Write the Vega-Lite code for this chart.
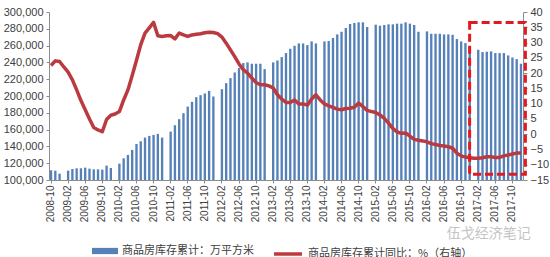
{
  "$schema": "https://vega.github.io/schema/vega-lite/v6.json",
  "width": 474,
  "height": 168,
  "autosize": {"type": "none"},
  "padding": {"left": 49, "top": 12, "right": 27, "bottom": 77},
  "background": "white",
  "title": {"text": "伍戈经济笔记", "orient": "top", "anchor": "end", "frame": "bounds", "font": "Noto Sans CJK SC", "fontSize": 14, "fontWeight": "normal", "color": "#c4c4c4", "offset": 0, "dx": -18, "dy": 235},
  "config": {
    "view": {"stroke": null},
    "font": "Liberation Sans",
    "axis": {"grid": false, "domainColor": "#8c8c8c", "tickColor": "#8c8c8c", "labelColor": "#404040", "labelFont": "Liberation Sans", "title": null},
    "legend": {"orient": "none", "title": null, "labelFont": "Noto Sans CJK SC", "labelFontSize": 11, "labelColor": "#404040", "labelLimit": 400}
  },
  "data": {"values": [
    {"m": "2008-10", "inv": 111600, "yoy": 22.5},
    {"m": "2008-11", "inv": 111100, "yoy": 24.0},
    {"m": "2008-12", "inv": 107500, "yoy": 23.8},
    {"m": "2009-01", "yoy": 22.0},
    {"m": "2009-02", "inv": 111100, "yoy": 20.3},
    {"m": "2009-03", "inv": 113100, "yoy": 17.8},
    {"m": "2009-04", "inv": 113900, "yoy": 14.5},
    {"m": "2009-05", "inv": 113900, "yoy": 11.0},
    {"m": "2009-06", "inv": 114700, "yoy": 8.0},
    {"m": "2009-07", "inv": 113500, "yoy": 5.0},
    {"m": "2009-08", "inv": 112700, "yoy": 2.2},
    {"m": "2009-09", "inv": 112700, "yoy": 1.4},
    {"m": "2009-10", "inv": 112300, "yoy": 0.8},
    {"m": "2009-11", "inv": 117100, "yoy": 4.8},
    {"m": "2009-12", "inv": 114300, "yoy": 6.2},
    {"m": "2010-01", "yoy": 6.6},
    {"m": "2010-02", "inv": 119500, "yoy": 7.4},
    {"m": "2010-03", "inv": 125800, "yoy": 11.2},
    {"m": "2010-04", "inv": 129800, "yoy": 14.5},
    {"m": "2010-05", "inv": 135800, "yoy": 19.2},
    {"m": "2010-06", "inv": 142900, "yoy": 24.2},
    {"m": "2010-07", "inv": 146100, "yoy": 29.3},
    {"m": "2010-08", "inv": 150500, "yoy": 33.1},
    {"m": "2010-09", "inv": 152500, "yoy": 34.8},
    {"m": "2010-10", "inv": 153700, "yoy": 36.6},
    {"m": "2010-11", "inv": 154900, "yoy": 32.2},
    {"m": "2010-12", "inv": 150500, "yoy": 32.0},
    {"m": "2011-01", "yoy": 32.2},
    {"m": "2011-02", "inv": 157600, "yoy": 32.3},
    {"m": "2011-03", "inv": 165200, "yoy": 31.2},
    {"m": "2011-04", "inv": 172400, "yoy": 33.1},
    {"m": "2011-05", "inv": 179500, "yoy": 32.5},
    {"m": "2011-06", "inv": 187400, "yoy": 32.0},
    {"m": "2011-07", "inv": 193000, "yoy": 32.5},
    {"m": "2011-08", "inv": 198600, "yoy": 32.7},
    {"m": "2011-09", "inv": 201000, "yoy": 32.9},
    {"m": "2011-10", "inv": 203000, "yoy": 33.2},
    {"m": "2011-11", "inv": 206100, "yoy": 33.4},
    {"m": "2011-12", "inv": 199400, "yoy": 33.3},
    {"m": "2012-01", "yoy": 32.9},
    {"m": "2012-02", "inv": 208100, "yoy": 31.8},
    {"m": "2012-03", "inv": 215300, "yoy": 29.8},
    {"m": "2012-04", "inv": 221300, "yoy": 27.6},
    {"m": "2012-05", "inv": 228000, "yoy": 25.4},
    {"m": "2012-06", "inv": 233200, "yoy": 23.0},
    {"m": "2012-07", "inv": 239200, "yoy": 21.1},
    {"m": "2012-08", "inv": 240000, "yoy": 20.0},
    {"m": "2012-09", "inv": 238400, "yoy": 18.4},
    {"m": "2012-10", "inv": 238400, "yoy": 16.9},
    {"m": "2012-11", "inv": 238400, "yoy": 16.2},
    {"m": "2012-12", "inv": 232000, "yoy": 16.2},
    {"m": "2013-01", "yoy": 15.8},
    {"m": "2013-02", "inv": 240000, "yoy": 15.1},
    {"m": "2013-03", "inv": 242300, "yoy": 12.9},
    {"m": "2013-04", "inv": 246300, "yoy": 11.5},
    {"m": "2013-05", "inv": 251100, "yoy": 10.4},
    {"m": "2013-06", "inv": 256200, "yoy": 10.4},
    {"m": "2013-07", "inv": 259800, "yoy": 11.2},
    {"m": "2013-08", "inv": 262600, "yoy": 9.9},
    {"m": "2013-09", "inv": 262600, "yoy": 9.9},
    {"m": "2013-10", "inv": 260600, "yoy": 9.5},
    {"m": "2013-11", "inv": 265000, "yoy": 11.5},
    {"m": "2013-12", "inv": 262600, "yoy": 12.9},
    {"m": "2014-01", "yoy": 11.2},
    {"m": "2014-02", "inv": 265000, "yoy": 9.9},
    {"m": "2014-03", "inv": 265400, "yoy": 9.3},
    {"m": "2014-04", "inv": 269000, "yoy": 8.8},
    {"m": "2014-05", "inv": 273300, "yoy": 8.2},
    {"m": "2014-06", "inv": 276500, "yoy": 8.0},
    {"m": "2014-07", "inv": 280900, "yoy": 8.4},
    {"m": "2014-08", "inv": 285700, "yoy": 8.5},
    {"m": "2014-09", "inv": 286900, "yoy": 8.8},
    {"m": "2014-10", "inv": 287700, "yoy": 10.2},
    {"m": "2014-11", "inv": 287700, "yoy": 9.0},
    {"m": "2014-12", "inv": 282100, "yoy": 7.8},
    {"m": "2015-01", "yoy": 7.4},
    {"m": "2015-02", "inv": 284900, "yoy": 7.1},
    {"m": "2015-03", "inv": 283700, "yoy": 6.3},
    {"m": "2015-04", "inv": 284500, "yoy": 5.2},
    {"m": "2015-05", "inv": 285300, "yoy": 3.6},
    {"m": "2015-06", "inv": 285300, "yoy": 1.9},
    {"m": "2015-07", "inv": 286100, "yoy": 0.7},
    {"m": "2015-08", "inv": 286100, "yoy": 0.3},
    {"m": "2015-09", "inv": 287700, "yoy": 0.4},
    {"m": "2015-10", "inv": 286100, "yoy": -0.6},
    {"m": "2015-11", "inv": 284500, "yoy": -1.7},
    {"m": "2015-12", "inv": 276500, "yoy": -2.0},
    {"m": "2016-01", "yoy": -2.2},
    {"m": "2016-02", "inv": 276900, "yoy": -2.5},
    {"m": "2016-03", "inv": 274100, "yoy": -3.1},
    {"m": "2016-04", "inv": 274100, "yoy": -3.4},
    {"m": "2016-05", "inv": 274100, "yoy": -3.7},
    {"m": "2016-06", "inv": 273300, "yoy": -3.9},
    {"m": "2016-07", "inv": 273300, "yoy": -4.1},
    {"m": "2016-08", "inv": 272900, "yoy": -4.6},
    {"m": "2016-09", "inv": 267800, "yoy": -6.2},
    {"m": "2016-10", "inv": 265000, "yoy": -7.1},
    {"m": "2016-11", "inv": 263000, "yoy": -7.5},
    {"m": "2016-12", "inv": 255100, "yoy": -7.7},
    {"m": "2017-01", "yoy": -7.9},
    {"m": "2017-02", "inv": 255100, "yoy": -7.9},
    {"m": "2017-03", "inv": 252300, "yoy": -7.7},
    {"m": "2017-04", "inv": 252700, "yoy": -7.4},
    {"m": "2017-05", "inv": 253100, "yoy": -7.4},
    {"m": "2017-06", "inv": 251100, "yoy": -7.6},
    {"m": "2017-07", "inv": 251100, "yoy": -7.6},
    {"m": "2017-08", "inv": 251100, "yoy": -7.1},
    {"m": "2017-09", "inv": 248300, "yoy": -6.8},
    {"m": "2017-10", "inv": 245900, "yoy": -6.5},
    {"m": "2017-11", "inv": 243900, "yoy": -6.2},
    {"m": "2017-12", "inv": 238400, "yoy": -6.2}
  ]},
  "layer": [
    {
      "layer": [
        {
          "mark": {"type": "bar"},
          "encoding": {
            "x": {
              "field": "m", "type": "ordinal",
              "scale": {"paddingInner": 0.45, "paddingOuter": 0.2},
              "axis": {
                "values": ["2008-10","2009-02","2009-06","2009-10","2010-02","2010-06","2010-10","2011-02","2011-06","2011-10","2012-02","2012-06","2012-10","2013-02","2013-06","2013-10","2014-02","2014-06","2014-10","2015-02","2015-06","2015-10","2016-02","2016-06","2016-10","2017-02","2017-06","2017-10"],
                "labelAngle": 270, "labelFontSize": 10, "tickSize": 3, "labelPadding": 2
              }
            },
            "y": {
              "field": "inv", "type": "quantitative",
              "scale": {"domain": [100000, 300000], "zero": false, "nice": false},
              "axis": {"values": [100000,120000,140000,160000,180000,200000,220000,240000,260000,280000,300000], "format": ",d", "labelFontSize": 11, "tickSize": 3, "labelPadding": 3}
            },
            "y2": {"datum": 100000},
            "fill": {
              "datum": "商品房库存累计：万平方米",
              "type": "nominal",
              "scale": {"range": ["#5580b8"]},
              "legend": {"symbolType": "M-1,-0.24H1V0.24H-1Z", "symbolSize": 676, "symbolStrokeWidth": 0, "legendX": 43, "legendY": 226}
            }
          }
        },
        {
          "mark": {"type": "line", "strokeWidth": 3.5, "strokeJoin": "round"},
          "encoding": {
            "x": {"field": "m", "type": "ordinal"},
            "y": {
              "field": "yoy", "type": "quantitative",
              "scale": {"domain": [-15, 40], "nice": false, "zero": false},
              "axis": {"orient": "right", "values": [-15,-10,-5,0,5,10,15,20,25,30,35,40], "labelFontSize": 11, "tickSize": 4, "labelPadding": 3}
            },
            "stroke": {
              "datum": "商品房库存累计同比：%（右轴）",
              "type": "nominal",
              "scale": {"range": ["#bb3a40"]},
              "legend": {"symbolType": "stroke", "symbolSize": 784, "symbolStrokeWidth": 3.5, "legendX": 223, "legendY": 226}
            }
          }
        }
      ],
      "resolve": {"scale": {"y": "independent"}}
    },
    {
      "data": {"values": [{"x0": 98.5, "x1": 111.56, "y0": 106800, "y1": 287600}]},
      "mark": {"type": "rect", "fill": null, "fillOpacity": 0, "stroke": "#e3191f", "strokeWidth": 3, "strokeDash": [8, 4]},
      "encoding": {
        "x": {"field": "x0", "type": "quantitative", "scale": {"domain": [0, 111], "nice": false, "zero": false}, "axis": null},
        "x2": {"field": "x1"},
        "y": {"field": "y0", "type": "quantitative", "scale": {"domain": [100000, 300000], "nice": false, "zero": false}, "axis": null},
        "y2": {"field": "y1"}
      }
    }
  ],
  "resolve": {"scale": {"x": "independent", "y": "independent"}}
}
